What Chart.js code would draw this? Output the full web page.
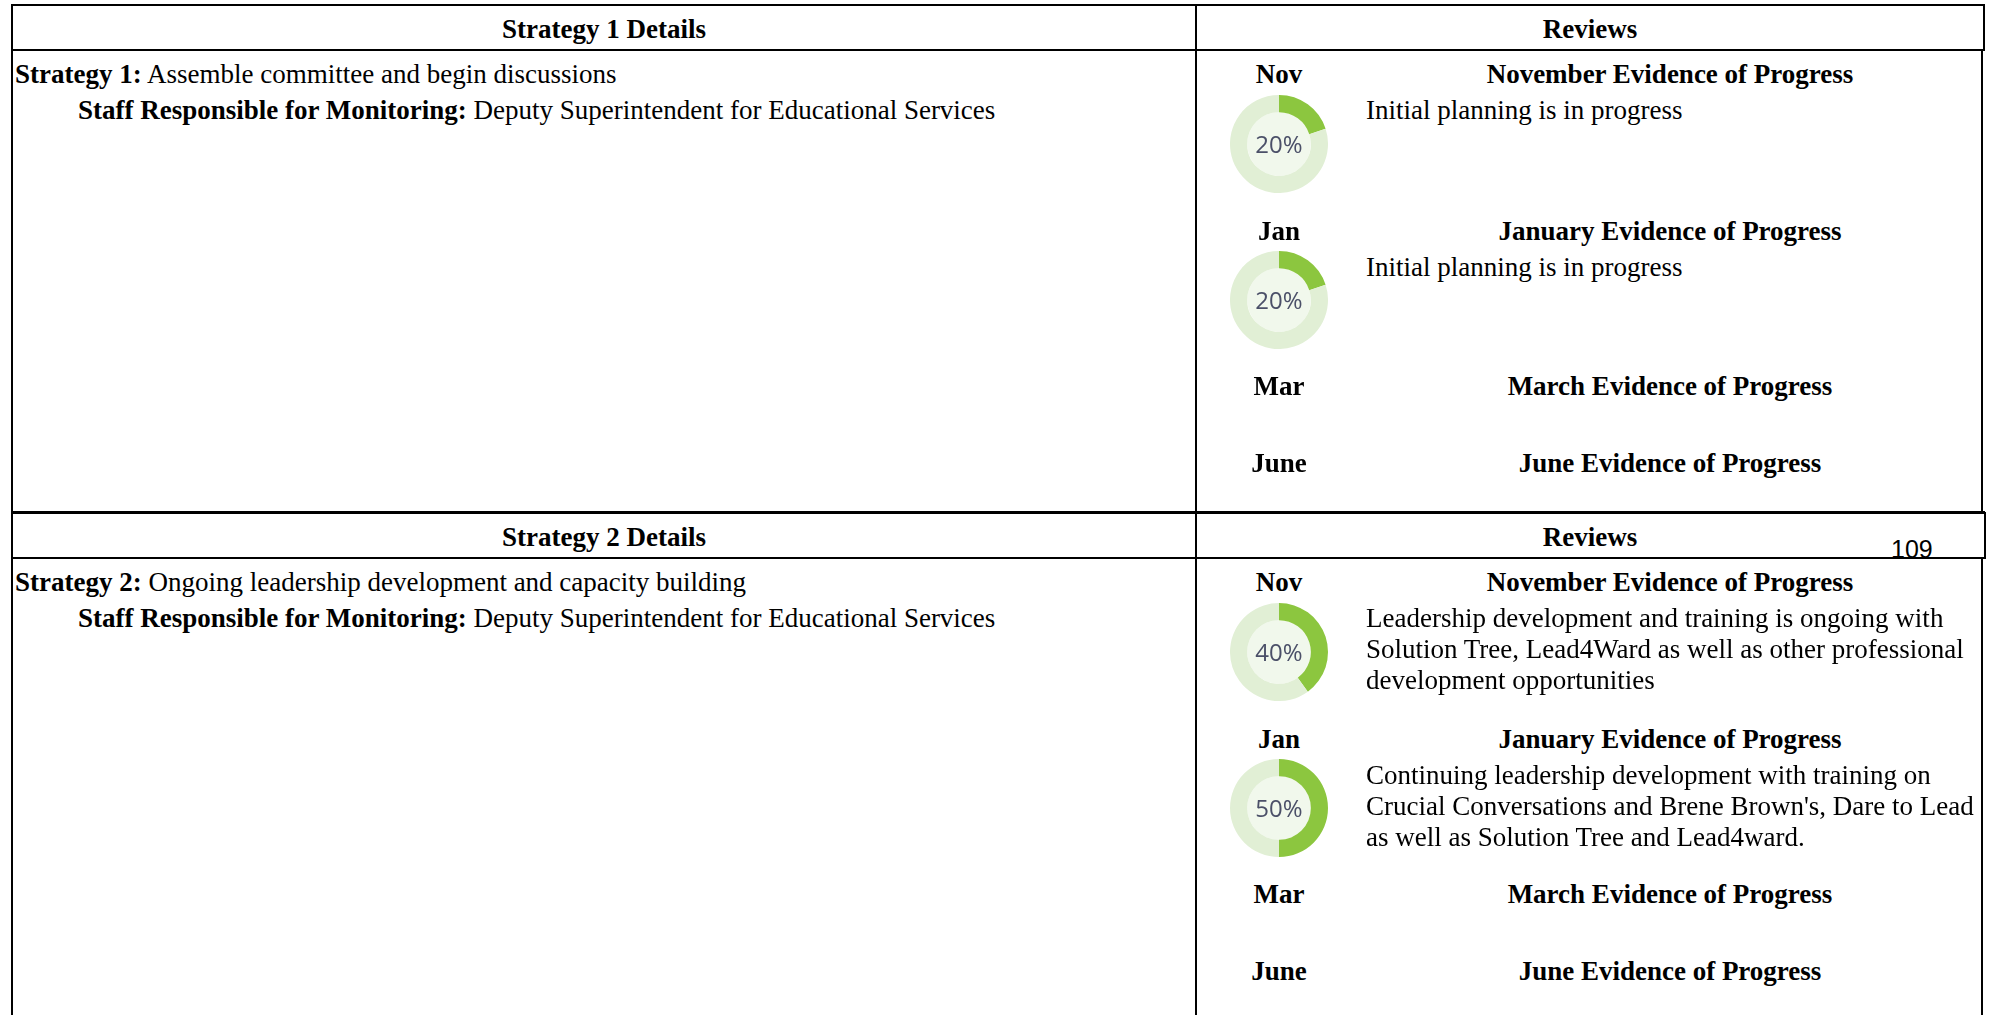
<!DOCTYPE html>
<html>
<head>
<meta charset="utf-8">
<script src="https://cdn.jsdelivr.net/npm/chart.js@4.4.0/dist/chart.umd.min.js"></script>
<style>
  html, body { margin: 0; padding: 0; background: #fff; }
  body { width: 1993px; height: 1015px; position: relative; overflow: hidden; font-family: "Liberation Serif", "Times New Roman", serif; color: #000; }
  .ln { position: absolute; background: #000; }
  .t { position: absolute; font-size: 27px; line-height: 30px; white-space: pre; }
  .b { font-weight: bold; }
  .c { text-align: center; }
  .pct { position: absolute; width: 98px; height: 30px; line-height: 30px; text-align: center; font-family: "Open Sans", sans-serif; font-size: 24px; color: #4b5068; }
  canvas.ring { position: absolute; }
</style>
</head>
<body>
<div id="page"></div>
<script>
const months = ["Nov", "Jan", "Mar", "June"];
const monthNames = ["November", "January", "March", "June"];
const strategyNames = ["Assemble committee and begin discussions", "Ongoing leadership development and capacity building"];
const staffResponsible = ["Deputy Superintendent for Educational Services", "Deputy Superintendent for Educational Services"];
const strategy1Progress = [20, 20, null, null];
const strategy2Progress = [40, 50, null, null];
const strategy1Evidence = [
  "Initial planning is in progress",
  "Initial planning is in progress",
  "",
  ""
];
const strategy2Evidence = [
  "Leadership development and training is ongoing with\nSolution Tree, Lead4Ward as well as other professional\ndevelopment opportunities",
  "Continuing leadership development with training on\nCrucial Conversations and Brene Brown's, Dare to Lead\nas well as Solution Tree and Lead4ward.",
  "",
  ""
];
const pageNumber = "109";

const GREEN = "#8cc63f", TRACK = "#e1efd5", INNER = "#f1f8ec";
const page = document.getElementById("page");

function line(x, y, w, h) {
  const d = document.createElement("div");
  d.className = "ln";
  d.style.left = x + "px"; d.style.top = y + "px";
  d.style.width = w + "px"; d.style.height = h + "px";
  page.appendChild(d);
}
function text(html, x, cy, cls, w) {
  const d = document.createElement("div");
  d.className = "t " + (cls || "");
  d.innerHTML = html;
  d.style.top = (cy - 15) + "px";
  if (w) { d.style.left = (x - w / 2) + "px"; d.style.width = w + "px"; }
  else d.style.left = x + "px";
  page.appendChild(d);
  return d;
}

const innerFill = {
  id: "innerFill",
  beforeDatasetsDraw(chart) {
    const arc = chart.getDatasetMeta(0).data[0];
    if (!arc) return;
    const ctx = chart.ctx;
    ctx.save();
    ctx.beginPath();
    ctx.arc(arc.x, arc.y, arc.innerRadius, 0, Math.PI * 2);
    ctx.fillStyle = INNER;
    ctx.fill();
    ctx.restore();
  }
};

function donut(value, cx, cy) {
  const cv = document.createElement("canvas");
  cv.className = "ring";
  cv.width = 98; cv.height = 98;
  cv.style.left = (cx - 49) + "px"; cv.style.top = (cy - 49) + "px";
  page.appendChild(cv);
  new Chart(cv, {
    type: "doughnut",
    data: {
      labels: ["Done", "Remaining"],
      datasets: [{
        data: [value, 100 - value],
        backgroundColor: [GREEN, TRACK],
        borderWidth: 0
      }]
    },
    options: {
      responsive: false,
      animation: false,
      cutout: "65%",
      plugins: { legend: { display: false }, tooltip: { enabled: false } }
    },
    plugins: [innerFill]
  });
  const p = document.createElement("div");
  p.className = "pct";
  p.textContent = value + "%";
  p.style.left = (cx - 49) + "px"; p.style.top = (cy - 15) + "px";
  page.appendChild(p);
}

// frame
line(11, 4, 1974, 2);      // top
line(11, 49, 1972, 2);     // header bottom 1
line(11, 511, 1974, 3);    // strategy separator
line(11, 557, 1974, 2);    // header bottom 2
line(11, 4, 2, 1011);      // left
line(1195, 4, 2, 1011);    // divider
line(1983, 4, 2, 47);      // right header 1
line(1981, 50, 2, 462);    // right body 1
line(1984, 512, 2, 47);    // right header 2
line(1981, 558, 2, 457);   // right body 2

function block(n, off, progress, evidence) {
  text("Strategy " + n + " Details", 604, 29 + off, "b c", 600);
  text("Reviews", 1590, 29 + off, "b c", 400);
  text("<b>Strategy " + n + ":</b> " + strategyNames[n - 1], 15, 74 + off);
  text("<b>Staff Responsible for Monitoring:</b> " + staffResponsible[n - 1], 78, 110 + off);
  const labelY = [74, 231, 386, 463];
  const ringY = [144, 300];
  const textY = [110, 267];
  months.forEach((m, i) => {
    text(m, 1279, labelY[i] + off, "b c", 120);
    text(monthNames[i] + " Evidence of Progress", 1670, labelY[i] + off, "b c", 600);
    if (progress[i] !== null) {
      donut(progress[i], 1279, ringY[i] + off);
      const d = text(evidence[i], 1366, textY[i] + off);
      d.style.lineHeight = "31px";
    }
  });
}
block(1, 0, strategy1Progress, strategy1Evidence);
block(2, 508, strategy2Progress, strategy2Evidence);

const pn = document.createElement("div");
pn.textContent = pageNumber;
pn.style.cssText = "position:absolute;left:1891px;top:534px;font-family:'Liberation Sans',Arial,sans-serif;font-size:25px;line-height:30px;";
page.appendChild(pn);
</script>
</body>
</html>
